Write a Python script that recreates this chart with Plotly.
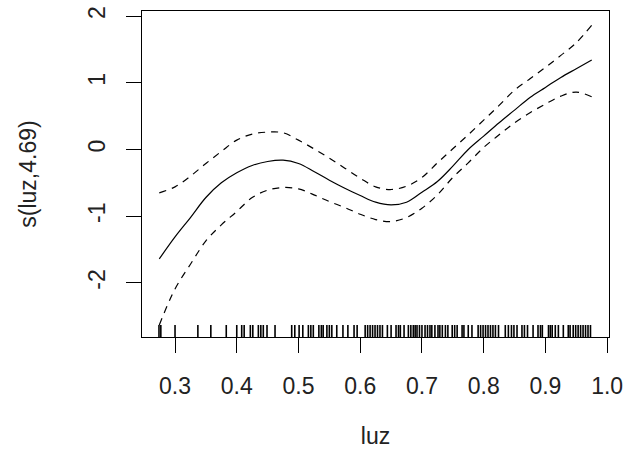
import plotly.graph_objects as go

# smooth term estimate s(luz, 4.69) with +/- 2 SE bands
luz = [0.2745, 0.30, 0.325, 0.35, 0.375, 0.40, 0.425, 0.45, 0.475, 0.50,
       0.525, 0.55, 0.575, 0.60, 0.625, 0.65, 0.675, 0.70, 0.725, 0.75,
       0.775, 0.80, 0.825, 0.85, 0.875, 0.90, 0.925, 0.95, 0.975]
fit = [-1.64, -1.31, -1.02, -0.72, -0.50, -0.35, -0.24, -0.18, -0.16, -0.21,
       -0.33, -0.46, -0.58, -0.69, -0.79, -0.83, -0.79, -0.64, -0.48, -0.25,
       0.00, 0.20, 0.40, 0.59, 0.78, 0.93, 1.08, 1.21, 1.34]
upper = [-0.65, -0.56, -0.40, -0.21, -0.03, 0.14, 0.23, 0.26, 0.25, 0.14,
         0.01, -0.13, -0.28, -0.43, -0.56, -0.60, -0.55, -0.42, -0.20, 0.01,
         0.22, 0.44, 0.66, 0.89, 1.06, 1.23, 1.41, 1.60, 1.86]
lower = [-2.63, -2.09, -1.72, -1.37, -1.13, -0.93, -0.72, -0.61, -0.57, -0.59,
         -0.68, -0.78, -0.87, -0.97, -1.05, -1.08, -1.02, -0.88, -0.68, -0.42,
         -0.20, 0.03, 0.22, 0.40, 0.55, 0.68, 0.80, 0.86, 0.79]

# rug of observed luz values
rug = [0.274, 0.277, 0.300, 0.337, 0.358, 0.383, 0.400, 0.408, 0.412, 0.422,
       0.426, 0.435, 0.439, 0.443, 0.449, 0.462, 0.489, 0.494, 0.501, 0.507,
       0.516, 0.520, 0.524, 0.533, 0.537, 0.540, 0.546, 0.550, 0.554, 0.562,
       0.572, 0.580, 0.590, 0.595, 0.608, 0.612, 0.616, 0.620, 0.624, 0.628,
       0.632, 0.636, 0.644, 0.650, 0.658, 0.662, 0.665, 0.671, 0.678, 0.682,
       0.686, 0.689, 0.692, 0.696, 0.700, 0.705, 0.709, 0.713, 0.716, 0.721,
       0.726, 0.729, 0.733, 0.738, 0.742, 0.749, 0.753, 0.757, 0.765, 0.768,
       0.775, 0.781, 0.791, 0.795, 0.799, 0.803, 0.807, 0.811, 0.815, 0.819,
       0.824, 0.835, 0.840, 0.845, 0.849, 0.854, 0.862, 0.866, 0.871, 0.880,
       0.888, 0.892, 0.895, 0.905, 0.908, 0.911, 0.916, 0.921, 0.929, 0.937,
       0.940, 0.945, 0.949, 0.953, 0.957, 0.961, 0.965, 0.969, 0.973]

x_ticks = [0.3, 0.4, 0.5, 0.6, 0.7, 0.8, 0.9, 1.0]
y_ticks = [-2, -1, 0, 1, 2]

y_range = [-2.81, 2.075]
x_range = [0.2465, 1.003]
rug_len = 0.18

rx, ry = [], []
for v in rug:
    rx += [v, v, None]
    ry += [y_range[0], y_range[0] + rug_len, None]

fig = go.Figure()
fig.add_trace(go.Scatter(x=rx, y=ry, mode="lines",
                         line=dict(color="black", width=1.6), hoverinfo="skip"))
fig.add_trace(go.Scatter(x=luz, y=fit, mode="lines",
                         line=dict(color="black", width=1.2, shape="spline")))
fig.add_trace(go.Scatter(x=luz, y=upper, mode="lines",
                         line=dict(color="black", width=1.2, dash="7px,6px", shape="spline")))
fig.add_trace(go.Scatter(x=luz, y=lower, mode="lines",
                         line=dict(color="black", width=1.2, dash="7px,6px", shape="spline")))

font = dict(family="Liberation Sans, Arial, sans-serif", size=23, color="#222")

fig.update_layout(
    template="none",
    width=644, height=471,
    margin=dict(l=142, r=35, t=11, b=134, autoexpand=False),
    paper_bgcolor="white", plot_bgcolor="white",
    showlegend=False,
    font=font,
)
fig.update_xaxes(
    range=x_range, tickvals=x_ticks, ticktext=[f"{v:.1f}" for v in x_ticks],
    automargin=False, ticklabeloverflow="allow",
    showline=True, mirror=True, linecolor="black", linewidth=1,
    ticks="outside", ticklen=15, tickcolor="black", tickwidth=1,
    showgrid=False, zeroline=False, ticklabelstandoff=13,
    title=dict(text="luz", font=font, standoff=30),
)
fig.update_yaxes(
    range=y_range, tickvals=y_ticks, ticktext=[str(v) for v in y_ticks],
    tickangle=-90, automargin=False, ticklabeloverflow="allow",
    showline=True, mirror=True, linecolor="black", linewidth=1,
    ticks="outside", ticklen=15, tickcolor="black", tickwidth=1,
    showgrid=False, zeroline=False, ticklabelstandoff=12,
    title=dict(text="s(luz,4.69)", font=font, standoff=40),
)

fig.write_html("out.html",
               config={"displayModeBar": False, "staticPlot": True},
               post_script="document.body.style.margin='0';document.body.style.overflow='hidden';")
